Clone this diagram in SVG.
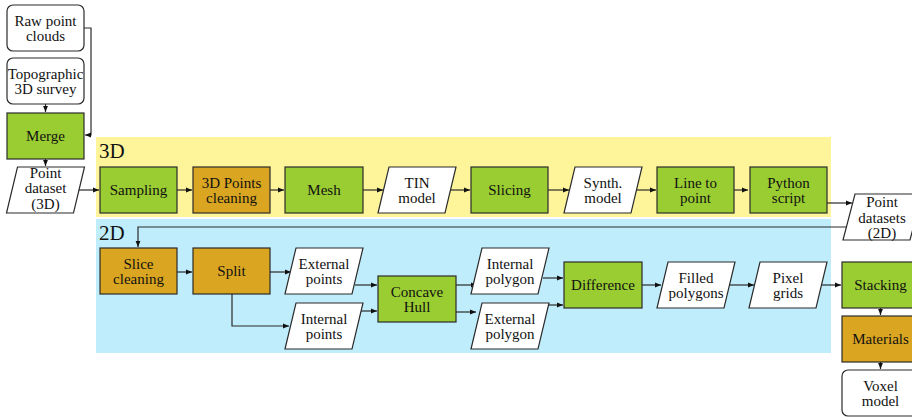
<svg xmlns="http://www.w3.org/2000/svg" width="912" height="417" viewBox="0 0 912 417">
<style>
.n{stroke:#2b2b2b;stroke-width:1.2}
.g{fill:#9ACD32}
.o{fill:#DAA520}
.w{fill:#ffffff}
text{font-family:"Liberation Serif","Times New Roman",serif;font-size:15px;fill:#111;text-anchor:middle}
.big{font-size:21px;text-anchor:start}
.c{fill:none;stroke:#2b2b2b;stroke-width:1.2;marker-end:url(#a)}
</style>
<defs>
<marker id="a" viewBox="0 0 6 6" refX="6" refY="3" markerWidth="6" markerHeight="6" markerUnits="userSpaceOnUse" orient="auto">
<path d="M0,0.6 L6,3 L0,5.4 Z" fill="#111"/>
</marker>
</defs>
<rect x="96" y="137" width="735" height="80" fill="#FEF59B"/>
<rect x="96" y="219" width="735" height="134" fill="#BFEDFC"/>
<text class="big" x="99" y="158">3D</text>
<text class="big" x="99" y="240">2D</text>

<g id="connectors">
<path class="c" d="M84,28 H91 V135 H85"/>
<path class="c" d="M45.5,104 V112"/>
<path class="c" d="M45.5,159 V166"/>
<path class="c" d="M78,190 H99"/>
<path class="c" d="M177,190 H192"/>
<path class="c" d="M270,190 H284"/>
<path class="c" d="M363,190 H383"/>
<path class="c" d="M451,190 H470"/>
<path class="c" d="M548,190 H569"/>
<path class="c" d="M636,190 H656"/>
<path class="c" d="M734,190 H748"/>
<path class="c" d="M827,203 H852"/>
<path class="c" d="M850,227 H138 V247"/>
<path class="c" d="M177,272 H192"/>
<path class="c" d="M270,272 H291"/>
<path class="c" d="M232,294 V326 H289"/>
<path class="c" d="M355,285 H377"/>
<path class="c" d="M355,311 H377"/>
<path class="c" d="M456,285 H477"/>
<path class="c" d="M456,312 H476"/>
<path class="c" d="M543,278 H563"/>
<path class="c" d="M540,305 H563"/>
<path class="c" d="M642,285 H661"/>
<path class="c" d="M729,285 H754"/>
<path class="c" d="M822,285 H841"/>
<path class="c" d="M880.5,308 V315"/>
<path class="c" d="M880.5,362 V369"/>
</g>

<g id="raw-point-clouds"><rect class="n w" x="7" y="5" width="77" height="46" rx="6"/><text x="45.5" y="25.5">Raw point</text><text x="45.5" y="40.5">clouds</text></g>
<g id="topographic-survey"><rect class="n w" x="7" y="58" width="77" height="46" rx="6"/><text x="45.5" y="79">Topographic</text><text x="45.5" y="94">3D survey</text></g>
<g id="merge"><rect class="n g" x="7" y="113" width="77" height="46"/><text x="45.5" y="141">Merge</text></g>
<g id="point-dataset-3d"><polygon class="n w" points="17.5,167 84.5,167 73.5,213 6.5,213"/><text x="45.5" y="177.5">Point</text><text x="45.5" y="193">dataset</text><text x="45.5" y="208.5">(3D)</text></g>

<g id="sampling"><rect class="n g" x="100" y="167" width="77" height="46"/><text x="138.5" y="195">Sampling</text></g>
<g id="points-cleaning"><rect class="n o" x="193" y="167" width="77" height="46"/><text x="231.5" y="187.5">3D Points</text><text x="231.5" y="202.5">cleaning</text></g>
<g id="mesh"><rect class="n g" x="285" y="167" width="78" height="46"/><text x="324" y="195">Mesh</text></g>
<g id="tin-model"><polygon class="n w" points="389,167 456,167 445,213 378,213"/><text x="417" y="187.5">TIN</text><text x="417" y="202.5">model</text></g>
<g id="slicing"><rect class="n g" x="471" y="167" width="77" height="46"/><text x="509.5" y="195">Slicing</text></g>
<g id="synth-model"><polygon class="n w" points="575,167 642,167 631,213 564,213"/><text x="603" y="187.5">Synth.</text><text x="603" y="202.5">model</text></g>
<g id="line-to-point"><rect class="n g" x="657" y="167" width="77" height="46"/><text x="695.5" y="187.5">Line to</text><text x="695.5" y="202.5">point</text></g>
<g id="python-script"><rect class="n g" x="750" y="167" width="77" height="46"/><text x="788.5" y="187.5">Python</text><text x="788.5" y="202.5">script</text></g>
<g id="point-datasets-2d"><polygon class="n w" points="855,194 922,194 910,240 843,240"/><text x="882" y="207">Point</text><text x="882" y="222.5">datasets</text><text x="882" y="238">(2D)</text></g>

<g id="slice-cleaning"><rect class="n o" x="100" y="248" width="77" height="46"/><text x="138.5" y="268.5">Slice</text><text x="138.5" y="283.5">cleaning</text></g>
<g id="split"><rect class="n o" x="193" y="248" width="77" height="46"/><text x="231.5" y="276">Split</text></g>
<g id="external-points"><polygon class="n w" points="296,248 363,248 352,294 285,294"/><text x="324" y="268.5">External</text><text x="324" y="283.5">points</text></g>
<g id="internal-points"><polygon class="n w" points="296,303 363,303 352,349 285,349"/><text x="324" y="323.5">Internal</text><text x="324" y="338.5">points</text></g>
<g id="concave-hull"><rect class="n g" x="378" y="276" width="78" height="46"/><text x="417" y="296.5">Concave</text><text x="417" y="311.5">Hull</text></g>
<g id="internal-polygon"><polygon class="n w" points="482,248 549,248 538,294 471,294"/><text x="510" y="268.5">Internal</text><text x="510" y="283.5">polygon</text></g>
<g id="external-polygon"><polygon class="n w" points="482,303 549,303 538,349 471,349"/><text x="510" y="323.5">External</text><text x="510" y="338.5">polygon</text></g>
<g id="difference"><rect class="n g" x="564" y="262" width="78" height="46"/><text x="603" y="290">Difference</text></g>
<g id="filled-polygons"><polygon class="n w" points="668,262 735,262 724,308 657,308"/><text x="696" y="282.5">Filled</text><text x="696" y="297.5">polygons</text></g>
<g id="pixel-grids"><polygon class="n w" points="760,262 827,262 816,308 749,308"/><text x="788" y="282.5">Pixel</text><text x="788" y="297.5">grids</text></g>
<g id="stacking"><rect class="n g" x="842" y="262" width="77" height="46"/><text x="880.5" y="290">Stacking</text></g>
<g id="materials"><rect class="n o" x="842" y="316" width="77" height="46"/><text x="880.5" y="344">Materials</text></g>
<g id="voxel-model"><rect class="n w" x="842" y="370" width="77" height="46" rx="6"/><text x="880.5" y="390.5">Voxel</text><text x="880.5" y="405.5">model</text></g>
</svg>
